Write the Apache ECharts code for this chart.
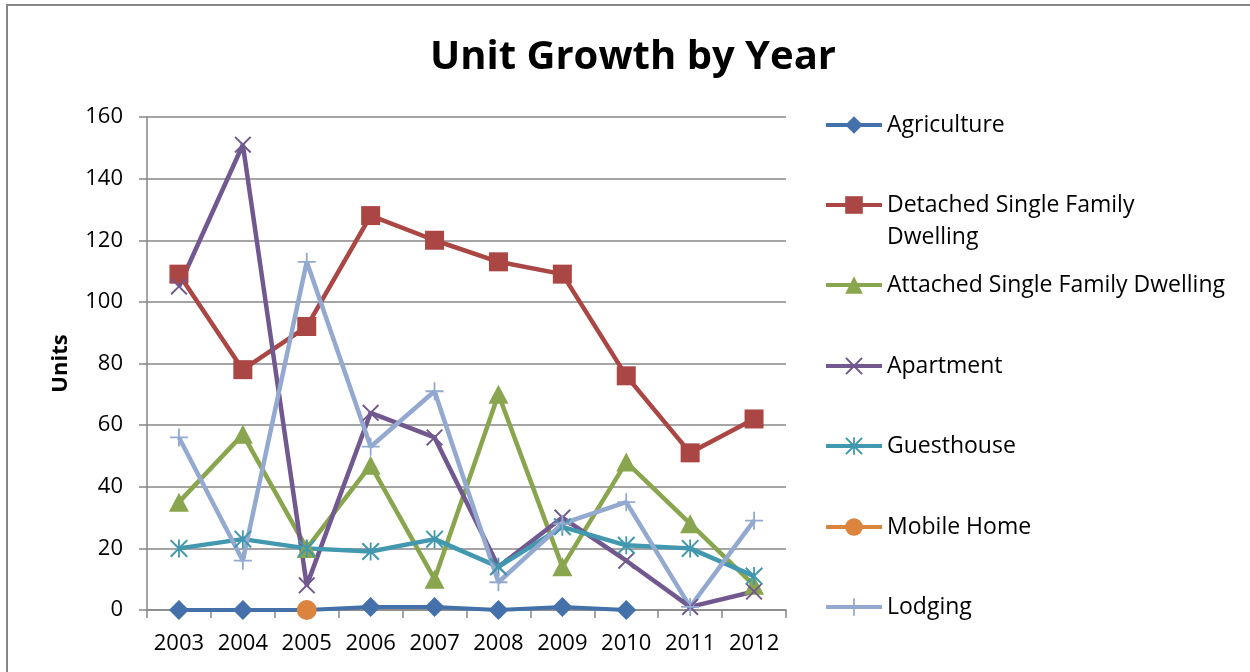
<!DOCTYPE html>
<html>
<head>
<meta charset="utf-8">
<script src="https://cdn.jsdelivr.net/npm/echarts@6/dist/echarts.min.js"></script>
<style>html,body{margin:0;padding:0;background:#fff;}#c{width:1250px;height:672px;}</style>
</head>
<body>
<div id="c"></div>
<script>
const years = ['2003','2004','2005','2006','2007','2008','2009','2010','2011','2012'];
const agriculture = [0,0,0,1,1,0,1,0,null,null];
const detached = [109,78,92,128,120,113,109,76,51,62];
const attached = [35,57,20,47,10,70,14,48,28,8];
const apartment = [105,151,8,64,56,14,30,16,1,6];
const guesthouse = [20,23,20,19,23,14,27,21,20,11];
const mobileHome = [null,null,0,null,null,null,null,null,null,null];
const lodging = [56,16,113,53,71,9,28,35,1,29];
const seriesNames = ['Agriculture','Detached Single Family Dwelling','Attached Single Family Dwelling','Apartment','Guesthouse','Mobile Home','Lodging'];
const yTicks = {min:0, max:160, interval:20};

const FONT = 'Open Sans';
const X_PATH = 'path://M0,1.6L1.6,0L10,8.4L18.4,0L20,1.6L11.6,10L20,18.4L18.4,20L10,11.6L1.6,20L0,18.4L8.4,10Z';
const STAR_PATH = 'path://M0,1.6L1.6,0L10,8.4L18.4,0L20,1.6L11.6,10L20,18.4L18.4,20L10,11.6L1.6,20L0,18.4L8.4,10Z M9,0L11,0L11,20L9,20Z';
const PLUS_PATH = 'path://M9,0L11,0L11,9L20,9L20,11L11,11L11,20L9,20L9,11L0,11L0,9L9,9Z';

const colors = ['#4471AA','#AA4643','#89A54E','#71588F','#4198AF','#DB843D','#93A9CF'];
const symbols = ['diamond','rect','triangle',X_PATH,STAR_PATH,'circle',PLUS_PATH];
const symbolSizes = [[20,20],19,[20,19],17,18,20,18];
const dataSets = [agriculture, detached, attached, apartment, guesthouse, mobileHome, lodging];

const legendCenters = [125,205,285,366,446,527,607];

const chart = echarts.init(document.getElementById('c'), null, {renderer:'canvas'});

const legends = seriesNames.map((name, i) => {
  const two = (i === 1);
  return {
    data: [name],
    orient: 'vertical',
    left: 824,
    top: two ? legendCenters[i] - 48 : legendCenters[i] - 16,
    padding: 0,
    itemWidth: 56,
    itemHeight: 22,
    selectedMode: false,
    lineStyle: {width: 4},
    formatter: two ? () => '\nDetached Single Family\nDwelling' : undefined,
    textStyle: {fontFamily: FONT, fontSize: 23, color: '#000', lineHeight: 32}
  };
});

const option = {
  animation: false,
  backgroundColor: '#fff',
  color: colors,
  title: {
    text: 'Unit Growth by Year',
    left: 425, top: 33,
    textStyle: {fontFamily: FONT, fontWeight: 'bold', fontSize: 40, color: '#000'}
  },
  legend: legends,
  grid: {left: 147, right: 464, top: 117, bottom: 62, containLabel: false},
  xAxis: {
    type: 'category',
    data: years,
    boundaryGap: true,
    axisLine: {show: true, lineStyle: {color: '#878787', width: 1.5}},
    axisTick: {show: true, length: 8, lineStyle: {color: '#878787', width: 1.5}},
    axisLabel: {fontFamily: FONT, fontSize: 22, color: '#000', margin: 23, interval: 0, hideOverlap: false},
    splitLine: {show: false}
  },
  yAxis: {
    type: 'value',
    min: yTicks.min, max: yTicks.max, interval: yTicks.interval,
    name: 'Units',
    nameLocation: 'middle',
    nameRotate: 90,
    nameGap: 75,
    nameTextStyle: {fontFamily: FONT, fontWeight: 'bold', fontSize: 22, color: '#000'},
    axisLine: {show: true, lineStyle: {color: '#878787', width: 1.5}},
    axisTick: {show: true, length: 8, lineStyle: {color: '#878787', width: 1.5}},
    axisLabel: {fontFamily: FONT, fontSize: 22, color: '#000', margin: 24},
    splitLine: {show: true, lineStyle: {color: '#878787', width: 1.5}}
  },
  graphic: [{
    type: 'rect', silent: true, z: -10,
    shape: {x: 7, y: 5, width: 1400, height: 800},
    style: {fill: null, stroke: '#868686', lineWidth: 2}
  }],
  series: seriesNames.map((name, i) => ({
    name: name,
    type: 'line',
    data: dataSets[i],
    symbol: symbols[i],
    symbolSize: symbolSizes[i],
    showAllSymbol: true,
    connectNulls: false,
    lineStyle: {width: i === 0 ? 4 : 4.5, color: colors[i]},
    itemStyle: {color: colors[i], borderWidth: 0}
  }))
};
chart.setOption(option);
</script>
</body>
</html>
